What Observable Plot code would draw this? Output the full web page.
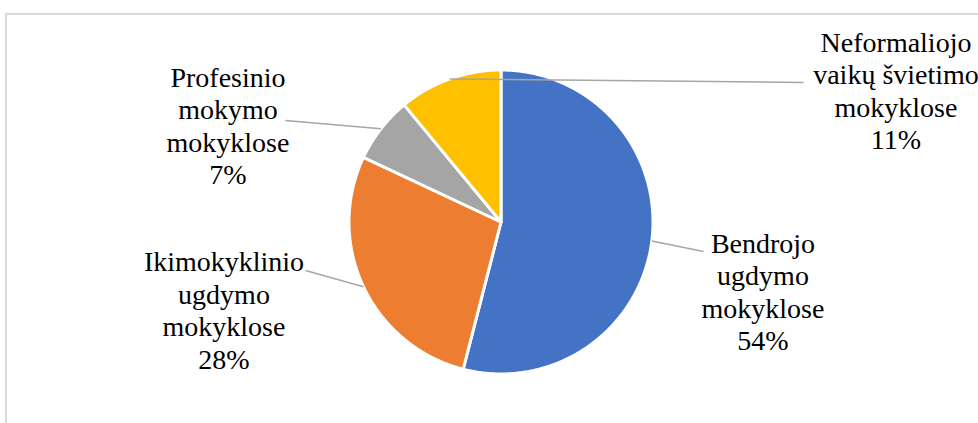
<!DOCTYPE html>
<html>
<head>
<meta charset="utf-8">
<script src="https://cdn.jsdelivr.net/npm/d3@7"></script>
<script src="https://cdn.jsdelivr.net/npm/@observablehq/plot@0.6"></script>
<style>
  html, body { margin: 0; padding: 0; background: #fff; }
  #wrap { position: relative; width: 978px; height: 423px; overflow: hidden; background: #fff; }
  #wrap svg { position: absolute; left: 0; top: 0; }
  #title { position: absolute; left: 0; top: -32px; width: 971px; font-family: "Liberation Serif", "Times New Roman", serif; font-size: 28px; line-height: 32px;
           color: #000; text-align: justify; text-align-last: justify; }
  #frame { position: absolute; left: 5px; top: 13px; width: 1200px; height: 800px; border: 2px solid #d9d9d9; pointer-events: none; }
  .lbl { position: absolute; transform: translateX(-50%); font-family: "Liberation Serif", "Times New Roman", serif; font-size: 28px;
         line-height: 32.48px; white-space: pre; text-align: center; color: #000; }
</style>
</head>
<body>
<div id="wrap">
  <div id="chart"></div>
  <div id="frame"></div>
  <div id="title"></div>
</div>
<script>
// ---- data ----
const titleText = "Pedagogų pasiskirstymas pagal mokyklų, kuriose jie dirba, tipą (procentais)";
const categories = ["Bendrojo ugdymo mokyklose", "Ikimokyklinio ugdymo mokyklose", "Profesinio mokymo mokyklose", "Neformaliojo vaikų švietimo mokyklose"];
const values = [54, 28, 7, 11];
const labelTexts = ["Bendrojo\nugdymo\nmokyklose", "Ikimokyklinio\nugdymo\nmokyklose", "Profesinio\nmokymo\nmokyklose", "Neformaliojo\nvaikų švietimo\nmokyklose"];
const colors = ["#4472C4", "#ED7D31", "#A5A5A5", "#FFC000"];

// ---- layout (pixels) ----
const W = 978, H = 423;
const cx = 500.5, cy = 221.5, R = 152;
const labelPos = [ // label block centre and leader-line end
  {x: 763, y: 291.6, lx: 703, ly: 251},
  {x: 224, y: 310.4, lx: 305, ly: 270},
  {x: 228, y: 125.6, lx: 285, ly: 120},
  {x: 896, y: 90.6,  lx: 803, ly: 82}
];

document.getElementById("title").textContent = titleText;

const arcs = d3.pie().sort(null).value((d, i) => values[i])(categories);

const slicePts = [];
arcs.forEach((a, i) => {
  const cat = categories[i];
  slicePts.push({cat, x: cx, y: cy});
  const steps = Math.max(2, Math.ceil((a.endAngle - a.startAngle) / (Math.PI / 360)));
  for (let k = 0; k <= steps; k++) {
    const t = a.startAngle + (a.endAngle - a.startAngle) * k / steps;
    slicePts.push({cat, x: cx + R * Math.sin(t), y: cy - R * Math.cos(t)});
  }
  slicePts.push({cat, x: cx, y: cy});
});

const leaders = arcs.map((a, i) => {
  const m = (a.startAngle + a.endAngle) / 2;
  return {x1: cx + R * Math.sin(m), y1: cy - R * Math.cos(m), x2: labelPos[i].lx, y2: labelPos[i].ly};
});

const labels = arcs.map((a, i) => ({
  x: labelPos[i].x, y: labelPos[i].y, text: labelTexts[i] + "\n" + values[i] + "%"
}));

const chart = Plot.plot({
  width: W,
  height: H,
  margin: 0,
  style: {background: "transparent"},
  x: {domain: [0, W], axis: null},
  y: {domain: [H, 0], axis: null},
  color: {domain: categories, range: colors},
  marks: [
    Plot.line(slicePts, {x: "x", y: "y", z: "cat", fill: "cat", stroke: "white", strokeWidth: 3, strokeLinejoin: "round", curve: "linear"}),
    Plot.link(leaders, {x1: "x1", y1: "y1", x2: "x2", y2: "y2", stroke: "#a6a6a6", strokeWidth: 1.5}),
    Plot.text(labels, {x: "x", y: "y", text: "text", fontSize: 28, lineHeight: 1.16, textAnchor: "middle", fontFamily: "Liberation Serif", fill: "#000"})
  ]
});
document.getElementById("chart").appendChild(chart);

// SVG text at this size falls back to a sans face here, so the label positions
// laid out by Plot's text mark are carried over to HTML text in the serif face.
const wrap = document.getElementById("wrap");
chart.querySelectorAll("text").forEach(t => {
  const m = /translate\(\s*([-\d.e]+)[ ,]+([-\d.e]+)\s*\)/.exec(t.getAttribute("transform") || "");
  const x = m ? +m[1] : +(t.getAttribute("x") || 0);
  const y = m ? +m[2] : +(t.getAttribute("y") || 0);
  const spans = t.querySelectorAll("tspan");
  const lines = spans.length ? Array.from(spans, s => s.textContent) : [t.textContent];
  const div = document.createElement("div");
  div.className = "lbl";
  div.style.left = x + "px";
  div.style.top = (y - 64) + "px";
  div.textContent = lines.join("\n");
  wrap.appendChild(div);
  t.remove();
});
</script>
</body>
</html>
